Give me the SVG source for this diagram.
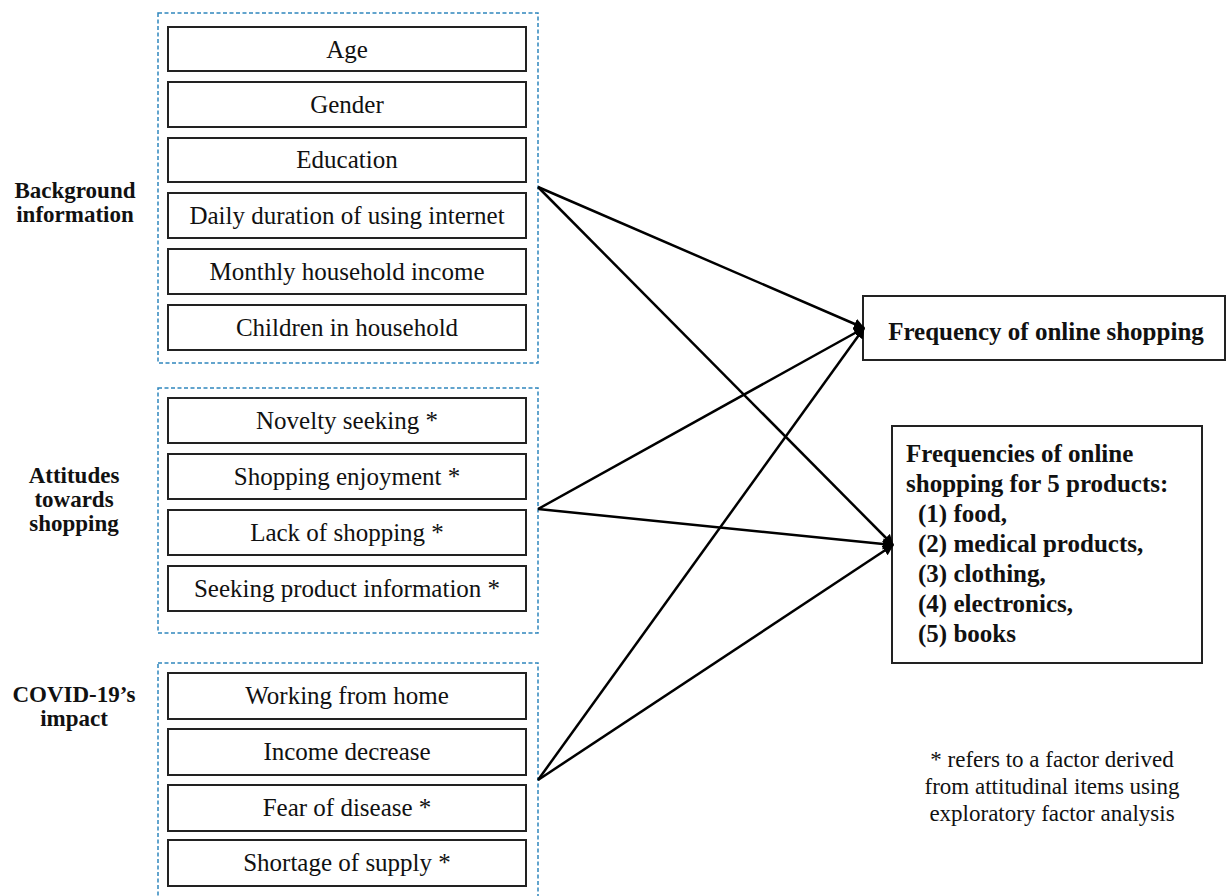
<svg xmlns="http://www.w3.org/2000/svg" width="1227" height="896" viewBox="0 0 1227 896">
<style>
.grp{fill:none;stroke:#2f86bd;stroke-width:1.5;stroke-dasharray:4,2.5}
.box{fill:#fff;stroke:#222;stroke-width:2}
.t{font-family:"Liberation Serif",serif;font-size:25px;fill:#111;text-anchor:middle}
.b{font-family:"Liberation Serif",serif;font-size:25px;font-weight:bold;fill:#111}
.lbl{font-family:"Liberation Serif",serif;font-size:23px;font-weight:bold;fill:#111;text-anchor:middle}
.note{font-family:"Liberation Serif",serif;font-size:23px;fill:#111;text-anchor:middle}
.c{stroke:#000;stroke-width:2.5;fill:none;marker-end:url(#ah)}
</style>
<defs>
<marker id="ah" viewBox="0 0 10 10" refX="9" refY="5" markerWidth="4.5" markerHeight="4.5" orient="auto" markerUnits="strokeWidth">
<path d="M0,0 L10,5 L0,10 z" fill="#000"/>
</marker>
</defs>
<rect width="1227" height="896" fill="#fff"/>
<g id="group-background">
<rect class="grp" x="158" y="13" width="380" height="350"/>
<text class="lbl" x="75" y="198">Background</text>
<text class="lbl" x="75" y="222">information</text>
</g>
<g id="node-age"><rect class="box" x="168" y="27" width="358" height="44"/><text class="t" x="347" y="58">Age</text></g>
<g id="node-gender"><rect class="box" x="168" y="82" width="358" height="45"/><text class="t" x="347" y="113">Gender</text></g>
<g id="node-education"><rect class="box" x="168" y="138" width="358" height="44"/><text class="t" x="347" y="168">Education</text></g>
<g id="node-daily"><rect class="box" x="168" y="193" width="358" height="45"/><text class="t" x="347" y="224">Daily duration of using internet</text></g>
<g id="node-income"><rect class="box" x="168" y="249" width="358" height="45"/><text class="t" x="347" y="280">Monthly household income</text></g>
<g id="node-children"><rect class="box" x="168" y="305" width="358" height="45"/><text class="t" x="347" y="336">Children in household</text></g>

<g id="group-attitudes">
<rect class="grp" x="158" y="388" width="380" height="245"/>
<text class="lbl" x="74" y="483">Attitudes</text>
<text class="lbl" x="74" y="507">towards</text>
<text class="lbl" x="74" y="531">shopping</text>
</g>
<g id="node-novelty"><rect class="box" x="168" y="398" width="358" height="45"/><text class="t" x="347" y="429">Novelty seeking *</text></g>
<g id="node-enjoyment"><rect class="box" x="168" y="454" width="358" height="45"/><text class="t" x="347" y="485">Shopping enjoyment *</text></g>
<g id="node-lack"><rect class="box" x="168" y="510" width="358" height="45"/><text class="t" x="347" y="541">Lack of shopping *</text></g>
<g id="node-seeking"><rect class="box" x="168" y="566" width="358" height="45"/><text class="t" x="347" y="597">Seeking product information *</text></g>

<g id="group-covid">
<rect class="grp" x="158" y="663" width="380" height="240"/>
<text class="lbl" x="74" y="702">COVID-19’s</text>
<text class="lbl" x="74" y="726">impact</text>
</g>
<g id="node-wfh"><rect class="box" x="168" y="673" width="358" height="46"/><text class="t" x="347" y="704">Working from home</text></g>
<g id="node-incdec"><rect class="box" x="168" y="729" width="358" height="46"/><text class="t" x="347" y="760">Income decrease</text></g>
<g id="node-fear"><rect class="box" x="168" y="785" width="358" height="46"/><text class="t" x="347" y="816">Fear of disease *</text></g>
<g id="node-shortage"><rect class="box" x="168" y="840" width="358" height="46"/><text class="t" x="347" y="871">Shortage of supply *</text></g>

<g id="node-frequency">
<rect class="box" x="863" y="296" width="362" height="64"/>
<text class="b" x="1046" y="340" text-anchor="middle">Frequency of online shopping</text>
</g>
<g id="node-products">
<rect class="box" x="892" y="426" width="310" height="237"/>
<text class="b" x="906" y="462">Frequencies of online</text>
<text class="b" x="906" y="492">shopping for 5 products:</text>
<text class="b" x="918" y="522">(1) food,</text>
<text class="b" x="918" y="552">(2) medical products,</text>
<text class="b" x="918" y="582">(3) clothing,</text>
<text class="b" x="918" y="612">(4) electronics,</text>
<text class="b" x="918" y="642">(5) books</text>
</g>

<g id="note">
<text class="note" x="1052" y="767">* refers to a factor derived</text>
<text class="note" x="1052" y="794">from attitudinal items using</text>
<text class="note" x="1052" y="821">exploratory factor analysis</text>
</g>

<g id="connectors">
<line class="c" x1="538" y1="187" x2="864" y2="328"/>
<line class="c" x1="538" y1="187" x2="893" y2="545"/>
<line class="c" x1="538" y1="509" x2="864" y2="328"/>
<line class="c" x1="538" y1="509" x2="893" y2="545"/>
<line class="c" x1="538" y1="780" x2="864" y2="328"/>
<line class="c" x1="538" y1="780" x2="893" y2="545"/>
</g>
</svg>
